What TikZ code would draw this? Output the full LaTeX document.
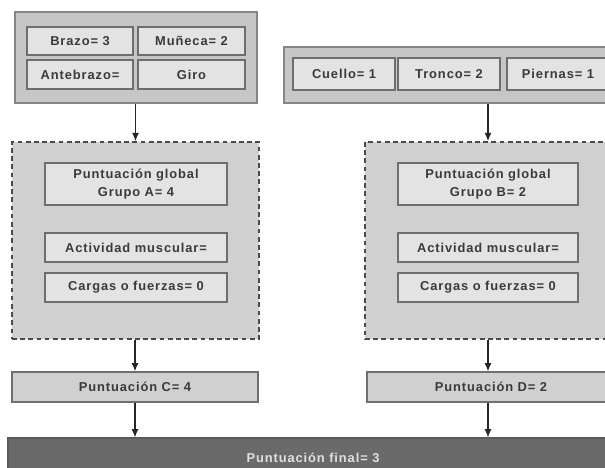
\documentclass[tikz,border=0pt]{standalone}
\usepackage{fontspec}
\usepackage{tikz}
\usetikzlibrary{arrows.meta}
\newfontfamily\lblfont[LetterSpace=7]{Liberation Sans}
\definecolor{txtgray}{HTML}{3A3A3A}
\definecolor{grpfill}{HTML}{C6C6C6}
\definecolor{grpline}{HTML}{858585}
\definecolor{cellfill}{HTML}{E3E3E3}
\definecolor{cellline}{HTML}{6E6E6E}
\definecolor{dashfill}{HTML}{D0D0D0}
\definecolor{dashline}{HTML}{4A4A4A}
\definecolor{finalfill}{HTML}{6A6A6A}
\definecolor{finalline}{HTML}{5A5A5A}

\begin{document}
\begin{tikzpicture}[x=0.03cm, y=-0.03cm,
  every node/.style={font=\lblfont\bfseries\fontsize{11}{16}\selectfont, text=txtgray, inner sep=0pt, align=center},
  grp/.style={draw=grpline, fill=grpfill, line width=1.2pt},
  cell/.style={draw=cellline, fill=cellfill, line width=1.2pt},
  dashgrp/.style={draw=dashline, fill=dashfill, line width=1.4pt, dash pattern=on 4pt off 3pt},
  score/.style={draw=cellline, fill=dashfill, line width=1.2pt},
  arr/.style={-{Latex[length=7pt,width=6pt]}, line width=1.1pt, black!85}]
  \clip (0,0) rectangle (605,468);
  % grupo A
  \node[grp, minimum width=242*0.03cm, minimum height=91*0.03cm] (grpA) at (136,57.5) {};
  \node[cell, minimum width=106*0.03cm, minimum height=28*0.03cm] (brazo) at (80,41) {Brazo= 3};
  \node[cell, minimum width=107*0.03cm, minimum height=28*0.03cm] (muneca) at (191.5,41) {Muñeca= 2};
  \node[cell, minimum width=106*0.03cm, minimum height=29*0.03cm] (antebrazo) at (80,74.5) {Antebrazo=};
  \node[cell, minimum width=107*0.03cm, minimum height=29*0.03cm] (giro) at (191.5,74.5) {Giro};
  % grupo B
  \node[grp, minimum width=330*0.03cm, minimum height=56*0.03cm] (grpB) at (449,75) {};
  \node[cell, minimum width=102*0.03cm, minimum height=32*0.03cm] (cuello) at (344,74) {Cuello= 1};
  \node[cell, minimum width=102*0.03cm, minimum height=32*0.03cm] (tronco) at (449,74) {Tronco= 2};
  \node[cell, minimum width=102*0.03cm, minimum height=32*0.03cm] (piernas) at (558,74) {Piernas= 1};
  % puntuaciones globales
  \node[dashgrp, minimum width=247*0.03cm, minimum height=197*0.03cm] (dashA) at (135.5,240.5) {};
  \node[cell, minimum width=182*0.03cm, minimum height=42*0.03cm] (globA) at (136,184) {Puntuación global\\Grupo A= 4};
  \node[cell, minimum width=182*0.03cm, minimum height=29*0.03cm] (actA) at (136,247.5) {Actividad muscular=};
  \node[cell, minimum width=182*0.03cm, minimum height=29*0.03cm] (cargA) at (136,287.5) {Cargas o fuerzas= 0};
  \node[dashgrp, minimum width=250*0.03cm, minimum height=197*0.03cm] (dashB) at (490,240.5) {};
  \node[cell, minimum width=180*0.03cm, minimum height=42*0.03cm] (globB) at (488,184) {Puntuación global\\Grupo B= 2};
  \node[cell, minimum width=180*0.03cm, minimum height=29*0.03cm] (actB) at (488,247.5) {Actividad muscular=};
  \node[cell, minimum width=180*0.03cm, minimum height=29*0.03cm] (cargB) at (488,287.5) {Cargas o fuerzas= 0};
  % puntuaciones C, D y final
  \node[score, minimum width=246*0.03cm, minimum height=30*0.03cm] (puntC) at (135,387) {Puntuación C= 4};
  \node[score, minimum width=248*0.03cm, minimum height=30*0.03cm] (puntD) at (491,387) {Puntuación D= 2};
  \node[draw=finalline, fill=finalfill, line width=1pt, text=white!88!black,
        minimum width=610*0.03cm, minimum height=40*0.03cm] (final) at (313,458) {Puntuación final= 3};
  \draw[arr] (grpA.south -| dashA.north) -- (dashA.north);
  \draw[arr] (grpB.south -| globB.north) -- (dashB.north -| globB.north);
  \draw[arr] (dashA.south -| puntC.north) -- (puntC.north);
  \draw[arr] (dashB.south -| globB.south) -- (puntD.north -| globB.south);
  \draw[arr] (puntC.south) -- (puntC.south |- final.north);
  \draw[arr] (puntD.south -| globB.south) -- (final.north -| globB.south);
\end{tikzpicture}
\end{document}
